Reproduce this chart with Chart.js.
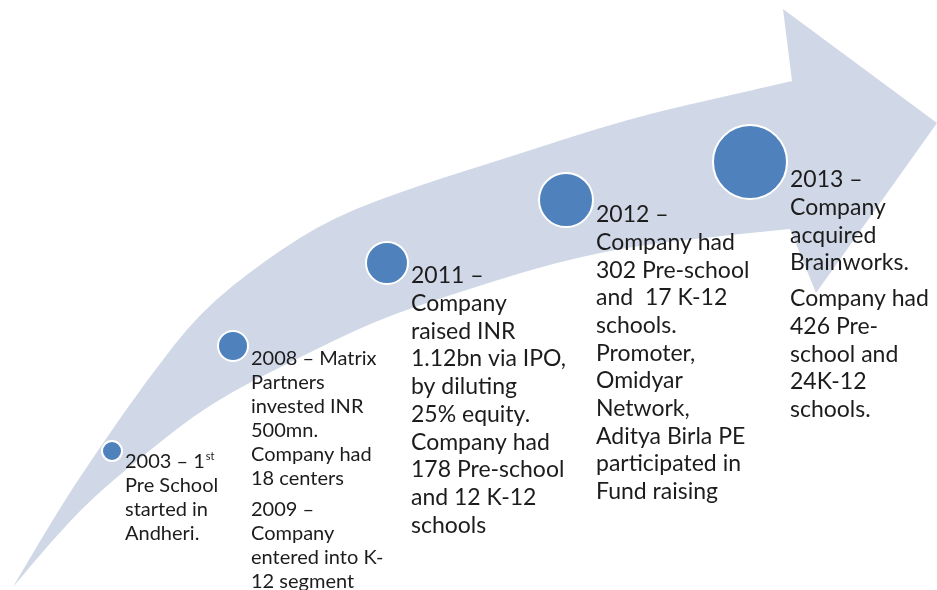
<!DOCTYPE html>
<html lang="en">
<head>
<meta charset="utf-8">
<title>Company timeline</title>
<style>
  html, body { margin: 0; padding: 0; background: #fff; }
  #chart { display: block; }
</style>
</head>
<body>
<canvas id="chart" width="937" height="590"></canvas>
<script src="https://cdn.jsdelivr.net/npm/chart.js@4/dist/chart.umd.min.js"></script>
<script>
// milestones
var years = ['2003', '2008', '2011', '2012', '2013'];
var stageX = [112, 233, 387, 566, 750];
var stageY = [451, 346, 263, 200, 162];
var bubbleR = [10, 15, 21, 27, 37];
// '' = paragraph gap, '^' = superscript
var notes = [
    ['2003 \u2013 1^st', 'Pre School', 'started in', 'Andheri.'],
    ['2008 \u2013 Matrix', 'Partners', 'invested INR', '500mn.', 'Company had', '18 centers', '',
     '2009 \u2013', 'Company', 'entered into K-', '12 segment'],
    ['2011 \u2013', 'Company', 'raised INR', '1.12bn via IPO,', 'by diluting', '25% equity.',
     'Company had', '178 Pre-school', 'and 12 K-12', 'schools'],
    ['2012 \u2013', 'Company had', '302 Pre-school', 'and  17 K-12', 'schools.', 'Promoter,',
     'Omidyar', 'Network,', 'Aditya Birla PE', 'participated in', 'Fund raising'],
    ['2013 \u2013', 'Company', 'acquired', 'Brainworks.', '', 'Company had', '426 Pre-',
     'school and', '24K-12', 'schools.']
];

var FONT = 'Lato, "Open Sans", sans-serif';

// the big curved arrow behind the bubbles (layout units = scale units)
var arrowPlugin = {
    id: 'arrow',
    beforeDatasetsDraw: function(chart) {
        var ctx = chart.ctx, sx = chart.scales.x, sy = chart.scales.y;
        var upper = [[13,587],[55,515],[100,447],[147,380],[200,312],[265,260],[333,217],
                     [420,185],[500,160],[630,118],[740,93],[792,81]];
        var head = [[783,9],[937,123],[816,293],[790,229]];
        var lower = [[790,229],[700,238],[630,247],[580,257],[530,270],[450,295],[377,320],
                     [300,357],[210,403],[140,458],[90,500],[50,543],[13,587]];
        function P(p) { return [sx.getPixelForValue(p[0]), sy.getPixelForValue(p[1])]; }
        function smooth(pts) {
            pts = pts.map(P);
            for (var i = 1; i < pts.length - 1; i++) {
                var mx = (pts[i][0] + pts[i+1][0]) / 2, my = (pts[i][1] + pts[i+1][1]) / 2;
                ctx.quadraticCurveTo(pts[i][0], pts[i][1], mx, my);
            }
            var l = pts[pts.length - 1];
            ctx.lineTo(l[0], l[1]);
        }
        ctx.save();
        ctx.beginPath();
        var s = P(upper[0]);
        ctx.moveTo(s[0], s[1]);
        smooth(upper);
        head.forEach(function(p) { p = P(p); ctx.lineTo(p[0], p[1]); });
        smooth(lower);
        ctx.closePath();
        ctx.fillStyle = '#d0d8e7';
        ctx.fill();
        ctx.restore();
    }
};

// the notes next to each bubble
var notesPlugin = {
    id: 'notes',
    afterDatasetsDraw: function(chart) {
        var ctx = chart.ctx, meta = chart.getDatasetMeta(0);
        ctx.save();
        ctx.fillStyle = '#1c1c1c';
        ctx.textBaseline = 'alphabetic';
        meta.data.forEach(function(pt, i) {
            var r = bubbleR[i];
            var small = i < 2;
            var size = small ? 20 : 23;
            var lh = small ? 24 : 27.7;
            var x = pt.x + r + 3;
            var y = pt.y + 14 + 0.3 * r;
            notes[i].forEach(function(line) {
                if (line === '') { y += lh * 0.3; return; }
                var parts = line.split('^');
                ctx.font = size + 'px ' + FONT;
                ctx.fillText(parts[0], x, y);
                if (parts[1]) {
                    var w = ctx.measureText(parts[0]).width;
                    ctx.font = Math.round(size * 0.55) + 'px ' + FONT;
                    ctx.fillText(parts[1], x + w + 1, y - size * 0.4);
                }
                y += lh;
            });
        });
        ctx.restore();
    }
};

new Chart(document.getElementById('chart'), {
    type: 'bubble',
    data: {
        labels: years,
        datasets: [{
            data: years.map(function(y, i) { return { x: stageX[i], y: stageY[i], r: bubbleR[i] }; }),
            backgroundColor: '#4f81bd',
            borderColor: '#ffffff',
            borderWidth: 2,
            clip: false
        }]
    },
    options: {
        responsive: false,
        animation: false,
        events: [],
        layout: { padding: 0, autoPadding: false },
        scales: {
            x: { type: 'linear', min: 0, max: 937, display: false },
            y: { type: 'linear', min: 0, max: 590, reverse: true, display: false }
        },
        plugins: {
            legend: { display: false },
            tooltip: { enabled: false }
        }
    },
    plugins: [arrowPlugin, notesPlugin]
});
</script>
</body>
</html>
